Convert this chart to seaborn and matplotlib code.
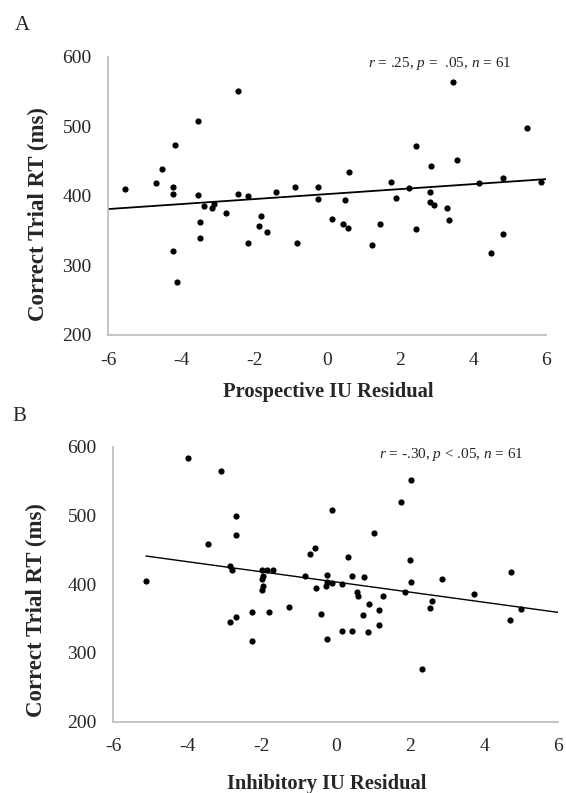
import numpy as np
import seaborn as sns
import matplotlib.pyplot as plt

# Panel A: prospective IU residual vs correct-trial RT
prosp_x = [-5.55, -4.70, -4.54, -4.18, -4.23, -4.23, -4.23, -4.12, -3.55, -3.55,
           -3.49, -3.49, -3.37, -3.17, -3.11, -2.76, -2.44, -2.44, -2.18, -2.18,
           -1.82, -1.87, -1.64, -1.39, -0.87, -0.82, -0.25, -0.25, 0.12, 0.61,
           0.50, 0.43, 0.56, 1.23, 1.44, 1.75, 1.88, 2.24, 2.43, 2.43,
           2.81, 2.86, 2.81, 2.92, 3.28, 3.34, 3.44, 3.55, 4.17, 4.49,
           4.81, 4.81, 5.49, 5.86]
prosp_rt = [410, 418, 438, 473, 413, 403, 320, 276, 507, 401,
            362, 339, 385, 383, 388, 375, 551, 402, 400, 332,
            371, 356, 348, 406, 412, 332, 412, 396, 367, 434,
            394, 359, 354, 330, 359, 420, 397, 411, 471, 352,
            406, 443, 391, 387, 382, 365, 564, 452, 418, 318,
            426, 345, 498, 420]
# trend line as drawn in the figure (end points)
prosp_trend_x = [-6, 6]
prosp_trend_rt = [381, 424]

# Panel B: inhibitory IU residual vs correct-trial RT
inhib_x = [-5.12, -3.99, -3.10, -3.45, -2.70, -2.68, -2.84, -2.81, -2.84, -2.68,
           -2.27, -2.25, -2.00, -1.86, -1.70, -1.96, -1.98, -1.96, -1.98, -1.81,
           -1.25, -0.82, -0.70, -0.57, -0.54, -0.39, -0.24, -0.24, -0.26, -0.10,
           -0.24, -0.10, 0.18, 0.18, 0.33, 0.43, 0.45, 0.56, 0.61, 0.76,
           0.72, 0.87, 0.89, 1.04, 1.17, 1.17, 1.27, 1.77, 1.87, 2.00,
           2.02, 2.02, 2.32, 2.54, 2.59, 2.86, 3.72, 4.72, 4.70, 5.00]
inhib_rt = [404, 583, 564, 459, 499, 471, 427, 421, 345, 353,
            318, 360, 420, 421, 420, 412, 408, 397, 391, 360,
            367, 412, 444, 453, 394, 357, 414, 403, 398, 402,
            321, 508, 401, 332, 439, 412, 332, 388, 383, 410,
            355, 330, 371, 474, 362, 340, 383, 520, 388, 435,
            403, 551, 276, 366, 376, 407, 386, 418, 348, 364]
inhib_trend_x = [-5.12, 6]
inhib_trend_rt = [441, 359]

x_ticks = [-6, -4, -2, 0, 2, 4, 6]
y_ticks = [200, 300, 400, 500, 600]

sns.set_theme(style="white")
plt.rcParams['font.family'] = ['Liberation Serif', 'DejaVu Serif']
plt.rcParams['mathtext.fontset'] = 'custom'
plt.rcParams['mathtext.rm'] = 'Liberation Serif'
plt.rcParams['mathtext.it'] = 'Liberation Serif:italic'

fig = plt.figure(figsize=(5.66, 7.93), dpi=100)
axA = fig.add_axes([0.1913, 0.5776, 0.7734, 0.3509])
axB = fig.add_axes([0.2002, 0.0899, 0.7862, 0.3468])

panels = [
    (axA, prosp_x, prosp_rt, prosp_trend_x, prosp_trend_rt,
     "Prospective IU Residual", "A",
     r"$r$ = .25, $p$ =  .05, $n$ = 61", 1.3,
     (-0.135, 0.435), (0.502, -0.17), (0.027, 0.968), (0.758, 0.977)),
    (axB, inhib_x, inhib_rt, inhib_trend_x, inhib_trend_rt,
     "Inhibitory IU Residual", "B",
     r"$r$ = -.30, $p$ < .05, $n$ = 61", 1.0,
     (-0.148, 0.406), (0.48, -0.19), (0.021, 0.475), (0.759, 0.97)),
]

for ax, xs, ys, tx, ty, xlab, letter, note, lw, ylc, xlc, letpos, notepos in panels:
    sns.scatterplot(x=xs, y=ys, ax=ax, color="black", s=20, linewidth=0)
    sns.lineplot(x=tx, y=ty, ax=ax, color="black", linewidth=lw)

    ax.set_xlim(-6, 6)
    ax.set_ylim(200, 600)
    ax.set_xticks(x_ticks)
    ax.set_yticks(y_ticks)
    ax.set_xticklabels([str(t) for t in x_ticks], fontsize=14)
    ax.set_yticklabels([str(t) for t in y_ticks], fontsize=14)
    ax.tick_params(axis="y", length=0, pad=12)
    ax.tick_params(axis="x", length=0, pad=12)

    for side in ["top", "right"]:
        ax.spines[side].set_visible(False)
    for side in ["left", "bottom"]:
        ax.spines[side].set_color("#bfbfbf")
        ax.spines[side].set_linewidth(1.3)

    ax.set_xlabel(xlab, fontsize=14.8, fontweight="bold")
    ax.set_ylabel("Correct Trial RT (ms)", fontsize=16.5, fontweight="bold")
    ax.yaxis.set_label_coords(*ylc)
    ax.xaxis.set_label_coords(*xlc)

    ax.text(notepos[0], notepos[1], note, transform=ax.transAxes,
            fontsize=11, ha="center", va="center")
    fig.text(letpos[0], letpos[1], letter, fontsize=15, ha="left", va="center")

fig.savefig("out.png", dpi=100)
